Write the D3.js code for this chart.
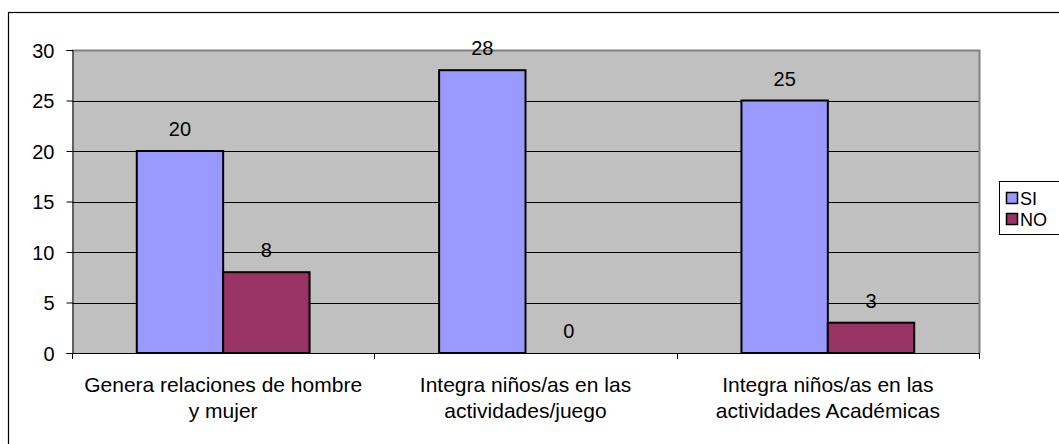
<!DOCTYPE html>
<html>
<head>
<meta charset="utf-8">
<script src="https://cdn.jsdelivr.net/npm/d3@7"></script>
<style>
	body { margin: 0; background: #fff; }
	svg text { font-family: "Liberation Sans", Arial, sans-serif; fill: #000; }
</style>
</head>
<body>
<svg id="chart" width="1059" height="444"></svg>
<script>
// chart data
var categories = [
	["Genera relaciones de hombre", "y mujer"],
	["Integra niños/as en las", "actividades/juego"],
	["Integra niños/as en las", "actividades Académicas"]
];
var seriesNames = ["SI", "NO"];
var siValues = [20, 28, 25];
var noValues = [8, 0, 3];
var yTicks = [0, 5, 10, 15, 20, 25, 30];

var colors = { SI: "#9999ff", NO: "#993366" };
var fontSize = "20px";
var catFontSize = "21px";
var legendFontSize = "18px";

var svg = d3.select("#chart");

// outer chart frame (runs past the right and bottom edges)
svg.append("rect")
	.attr("x", 8.5).attr("y", 12.5)
	.attr("width", 1070).attr("height", 450)
	.style("fill", "#fff").style("stroke", "#000").style("stroke-width", 1.2);

var plot = { left: 72, top: 50, right: 979, bottom: 353 };

var x0 = d3.scaleBand()
	.domain(d3.range(categories.length))
	.range([plot.left, plot.right])
	.paddingInner(0).paddingOuter(0);

// gap width 150% like the original
var groupW = x0.bandwidth();
var barW = groupW / 3.5;

var y = d3.scaleLinear().domain([0, 30]).range([plot.bottom, plot.top]);

// plot background
svg.append("rect")
	.attr("x", plot.left).attr("y", plot.top)
	.attr("width", plot.right - plot.left).attr("height", plot.bottom - plot.top)
	.style("fill", "#c0c0c0");

// gridlines
svg.append("g").selectAll("line")
	.data(yTicks.filter(function(d) { return d > 0; }))
	.join("line")
	.attr("x1", plot.left).attr("x2", plot.right)
	.attr("y1", function(d) { return Math.round(y(d)) + 0.5; })
	.attr("y2", function(d) { return Math.round(y(d)) + 0.5; })
	.style("stroke", "#000").style("stroke-width", 1);

// plot border top/right
svg.append("path")
	.attr("d", "M" + plot.left + "," + (plot.top + 0.5) + " H" + (plot.right + 0.5) + " V" + plot.bottom)
	.style("fill", "none").style("stroke", "#808080").style("stroke-width", 2);

// bars
var rows = [];
categories.forEach(function(c, i) {
	rows.push({ cat: i, s: 0, v: siValues[i] });
	rows.push({ cat: i, s: 1, v: noValues[i] });
});

function barX(d) {
	return x0(d.cat) + (groupW - 2 * barW) / 2 + d.s * barW;
}

svg.append("g").selectAll("rect")
	.data(rows.filter(function(d) { return d.v > 0; }))
	.join("rect")
	.attr("x", barX)
	.attr("y", function(d) { return y(d.v); })
	.attr("width", barW)
	.attr("height", function(d) { return y(0) - y(d.v); })
	.style("fill", function(d) { return colors[seriesNames[d.s]]; })
	.style("stroke", "#000").style("stroke-width", 2);

// value labels
svg.append("g").selectAll("text")
	.data(rows)
	.join("text")
	.attr("x", function(d) { return barX(d) + barW / 2; })
	.attr("y", function(d) { return y(d.v) - 15; })
	.attr("text-anchor", "middle")
	.style("font-size", fontSize)
	.text(function(d) { return d.v; });

// y axis
var yAxis = d3.axisLeft(y).tickValues(yTicks).tickSize(6).tickPadding(12);
var yg = svg.append("g")
	.attr("transform", "translate(" + (plot.left + 0.5) + ",0)")
	.call(yAxis);
yg.select(".domain").style("stroke", "#000");
yg.selectAll(".tick line").style("stroke", "#000");
yg.selectAll("text").style("font-size", fontSize).attr("dy", "0.36em");

// x axis line + ticks between categories
var xg = svg.append("g");
xg.append("line")
	.attr("x1", plot.left).attr("x2", plot.right + 1)
	.attr("y1", plot.bottom + 0.5).attr("y2", plot.bottom + 0.5)
	.style("stroke", "#000");
xg.selectAll("line.tk")
	.data(d3.range(categories.length + 1))
	.join("line")
	.attr("class", "tk")
	.attr("x1", function(i) { return Math.round(plot.left + i * groupW) + 0.5; })
	.attr("x2", function(i) { return Math.round(plot.left + i * groupW) + 0.5; })
	.attr("y1", plot.bottom).attr("y2", plot.bottom + 6)
	.style("stroke", "#000");

// category labels
var catText = xg.selectAll("text.cat")
	.data(categories)
	.join("text")
	.attr("class", "cat")
	.attr("text-anchor", "middle")
	.style("font-size", catFontSize);
catText.selectAll("tspan")
	.data(function(d, i) { return d.map(function(t, k) { return { t: t, k: k, i: i }; }); })
	.join("tspan")
	.attr("x", function(d) { return x0(d.i) + groupW / 2; })
	.attr("y", function(d) { return 392 + d.k * 26; })
	.text(function(d) { return d.t; });

// legend
var legend = svg.append("g");
legend.append("rect")
	.attr("x", 999.5).attr("y", 181.5)
	.attr("width", 80).attr("height", 53)
	.style("fill", "#fff").style("stroke", "#000");
var items = legend.selectAll("g")
	.data(seriesNames)
	.join("g")
	.attr("transform", function(d, i) { return "translate(1006," + (192 + i * 21) + ")"; });
items.append("rect")
	.attr("x", 0.5).attr("y", 0.5)
	.attr("width", 11).attr("height", 11)
	.style("fill", function(d) { return colors[d]; })
	.style("stroke", "#000").style("stroke-width", 1.5);
items.append("text")
	.attr("x", 14).attr("y", 12.5)
	.style("font-size", legendFontSize)
	.text(function(d) { return d; });
</script>
</body>
</html>
